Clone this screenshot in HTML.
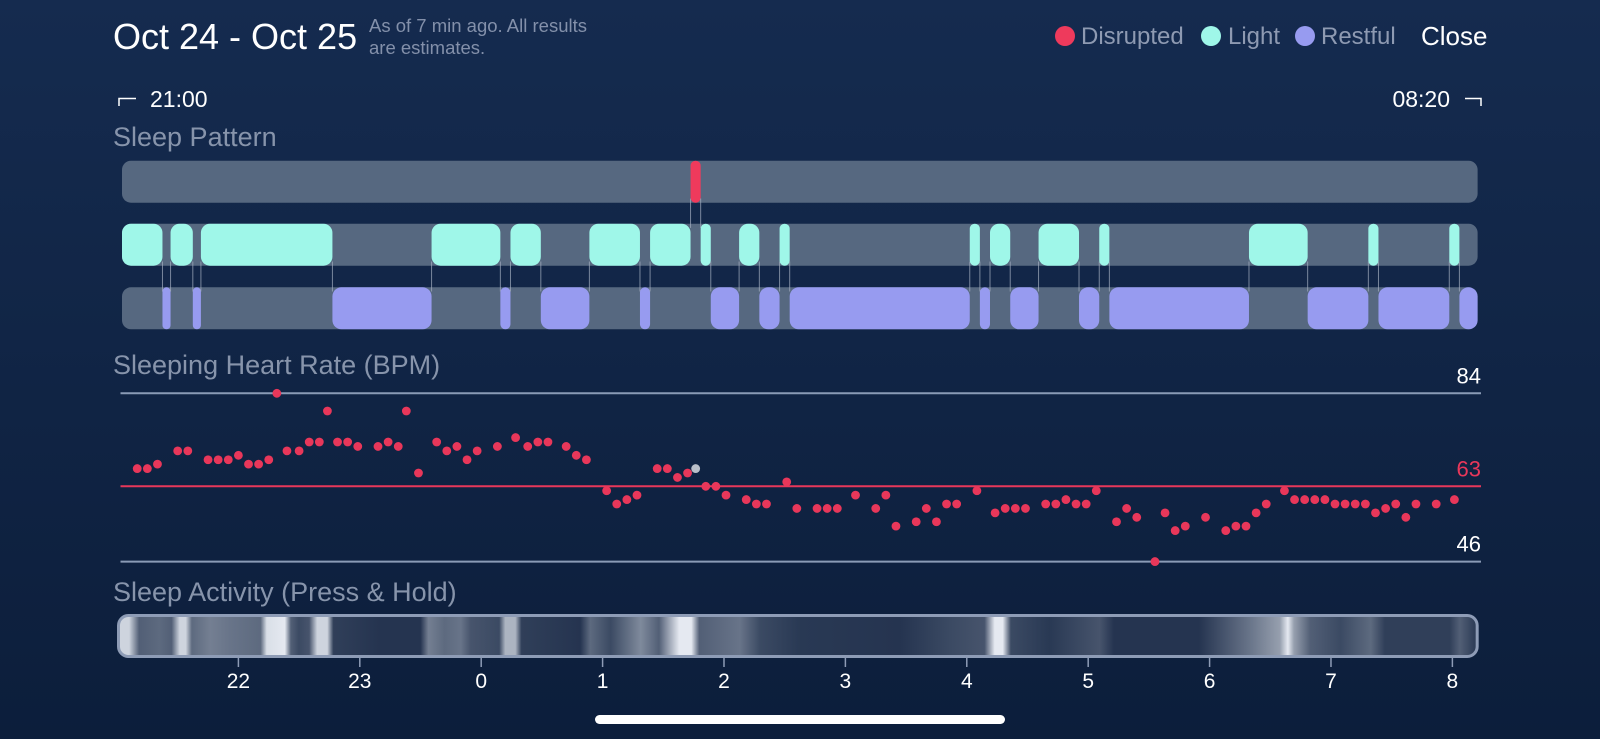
<!DOCTYPE html>
<html><head><meta charset="utf-8">
<style>
html,body{margin:0;padding:0;width:1600px;height:739px;overflow:hidden;background:#112447;}
svg{display:block;font-family:"Liberation Sans",sans-serif;}
</style></head>
<body>
<svg id="chart" width="1600" height="739" viewBox="0 0 1600 739">
<defs>
<linearGradient id="bg" x1="0" y1="0" x2="0" y2="1">
<stop offset="0" stop-color="#152b4f"/><stop offset="1" stop-color="#0c1e3b"/>
</linearGradient>
<linearGradient id="actGrad" x1="117" y1="0" x2="1478" y2="0" gradientUnits="userSpaceOnUse"></linearGradient>
</defs>
<rect x="0" y="0" width="1600" height="739" fill="url(#bg)"/>
<text x="113" y="49" font-size="36" fill="#ffffff">Oct 24 - Oct 25</text>
<text x="369" y="32" font-size="18.5" fill="#8390aa">As of 7 min ago. All results</text>
<text x="369" y="54" font-size="18.5" fill="#8390aa">are estimates.</text>
<g>
<circle cx="1065" cy="36" r="10" fill="#ee3a5c"/>
<text x="1081" y="44" font-size="24" fill="#8e9ab2">Disrupted</text>
<circle cx="1211" cy="36" r="10" fill="#9ff7e9"/>
<text x="1228" y="44" font-size="24" fill="#8e9ab2">Light</text>
<circle cx="1305" cy="36" r="10" fill="#979bf0"/>
<text x="1321" y="44" font-size="24" fill="#8e9ab2">Restful</text>
</g>
<text x="1421" y="45" font-size="26" fill="#ffffff">Close</text>
<path d="M119 106 V98.5 H136" stroke="#ffffff" stroke-width="1.5" fill="none"/>
<text x="150" y="107" font-size="23" fill="#ffffff">21:00</text>
<path d="M1465 98.5 H1481 V106" stroke="#ffffff" stroke-width="1.5" fill="none"/>
<text x="1450" y="107" font-size="23" fill="#ffffff" text-anchor="end">08:20</text>
<text x="113" y="146" font-size="27" fill="#8794ab">Sleep Pattern</text>
<text x="113" y="374" font-size="27" fill="#8794ab">Sleeping Heart Rate (BPM)</text>
<text x="113" y="601" font-size="27" fill="#8794ab">Sleep Activity (Press &amp; Hold)</text>
<g id="pattern"></g>
<g id="hr"></g>
<g id="act"></g>
<rect x="595" y="715" width="410" height="9" rx="4.5" fill="#ffffff"/>
</svg>
<script>
// ---- data ----
const stageStarts = [0,20,24,35,39,104,153,187,192,207,231,256,261,281,286,291,305,315,325,330,419,424,429,439,453,473,483,488,557,586,616,621,656,661];
const stageTypes  = ['L','R','L','R','L','R','L','R','L','R','L','R','L','D','L','R','L','R','L','R','L','R','L','R','L','R','L','R','L','R','L','R','L','R'];
const stageEnd = 670;
const hrTimes = [10,15,20,30,35,45,50,55,60,65,70,75,79,84,90,95,100,104,109,114,119,129,134,139,143,149,158,163,168,173,178,188,197,203,208,213,222,227,232,242,247,252,257,267,272,277,282,286,291,296,301,311,316,321,331,336,346,351,356,365,375,380,385,395,400,405,410,415,425,434,439,444,449,459,464,469,474,479,484,494,499,504,513,518,523,528,538,548,553,558,563,568,577,582,587,592,597,602,607,612,617,622,627,632,637,642,652,661];
const hrValues = [67,67,68,71,71,69,69,69,70,68,68,69,84,71,71,73,73,80,73,73,72,72,73,72,80,66,73,71,72,69,71,72,74,72,73,73,72,70,69,62,59,60,61,67,67,65,66,67,63,63,61,60,59,59,64,58,58,58,58,61,58,61,54,55,58,55,59,59,62,57,58,58,58,59,59,60,59,59,62,55,58,56,46,57,53,54,56,53,54,54,57,59,62,60,60,60,60,59,59,59,59,57,58,59,56,59,59,60];
const hrHighlight = 286;
const hrTickValues = [84,63,46];
const hourLabels = ['22','23','0','1','2','3','4','5','6','7','8'];
const hourMinutes = [60,120,180,240,300,360,420,480,540,600,660];
const actMinutes = [0,6,11,21,27,31,34,37,46,56,71,74,83,86,90,95,99,104,107,130,150,154,162,170,175,189,192,197,200,229,234,244,259,268,278,284,288,308,318,338,387,412,429,434,438,442,461,486,493,535,560,575,579,582,590,605,620,627,659,664,671,673];
const actLevels  = [0.85,0.85,0.3,0.35,0.3,0.85,0.85,0.35,0.45,0.4,0.35,0.9,0.95,0.3,0.2,0.25,0.85,0.85,0.15,0.1,0.1,0.45,0.35,0.4,0.25,0.2,0.7,0.7,0.15,0.1,0.35,0.2,0.5,0.3,0.95,0.95,0.3,0.4,0.2,0.12,0.1,0.2,0.25,0.95,0.95,0.2,0.12,0.25,0.1,0.1,0.4,0.6,0.95,0.6,0.3,0.2,0.35,0.15,0.15,0.3,0.15,0.15];

// ---- scales ----
const NS = 'http://www.w3.org/2000/svg';
const X0 = 117, PXM = 2.0233, PX0 = 122;
function xOf(m){ return X0 + m*PXM; }
function xPat(m){ return PX0 + m*PXM; }
const Y84 = 393.3, PXB = 4.4286;
function yOf(b){ return Y84 + (84-b)*PXB; }
function mk(tag, attrs, parent){
  const e = document.createElementNS(NS, tag);
  for (const k in attrs) e.setAttribute(k, attrs[k]);
  parent.appendChild(e); return e;
}

// ---- sleep pattern ----
const pat = document.getElementById('pattern');
const rowY = {D:160.7, L:223.7, R:287.3};
const rowH = 42;
const colors = {D:'#ef3a5c', L:'#9ff7e9', R:'#979bf0'};
const rowNames = {D:'disrupted-track', L:'light-track', R:'restful-track'};
for (const k of ['D','L','R']) {
  const t = mk('rect', {x:PX0, y:rowY[k], width:xPat(stageEnd)-PX0, height:rowH, rx:9, fill:'#566880'}, pat);
  
  
}
for (let i=0;i<stageStarts.length;i++){
  const s = stageStarts[i], e = (i+1<stageStarts.length)? stageStarts[i+1] : stageEnd;
  const k = stageTypes[i];
  const x1 = xPat(s), x2 = xPat(e), w = x2-x1;
  const r = Math.min(9, w/2);
  const seg = mk('rect', {x:x1, y:rowY[k], width:w, height:rowH, rx:r, fill:colors[k]}, pat);
  
  
  if (i+1<stageStarts.length){
    const k2 = stageTypes[i+1];
    const top = Math.min(rowY[k],rowY[k2]) + rowH, bot = Math.max(rowY[k],rowY[k2]);
    const ln = mk('line', {x1:x2, x2:x2, y1:top-rowH*0.1, y2:bot+rowH*0.1, stroke:'#a6b0c2', 'stroke-width':1, opacity:0.7}, pat);
    
    
  }
}

// ---- heart rate ----
const hr = document.getElementById('hr');
const lineX1 = 120.5, lineX2 = 1481;
const tickColors = ['#8a9bb6','#e8375a','#8a9bb6'];
const tickTextColors = ['#ffffff','#e8375a','#ffffff'];
hrTickValues.forEach((v,i)=>{
  const y = yOf(v);
  const l = mk('line', {x1:lineX1, x2:lineX2, y1:y, y2:y, stroke:tickColors[i], 'stroke-width':2}, hr);
  
  
  const t = mk('text', {x:1481, y:y-10, 'font-size':22, fill:tickTextColors[i], 'text-anchor':'end'}, hr);
  t.textContent = String(v);
  
  
});
hrTimes.forEach((m,i)=>{
  const c = mk('circle', {cx:xOf(m), cy:yOf(hrValues[i]), r:4.4, fill:(m===hrHighlight?'#b9bfc9':'#e8375a')}, hr);
  
  
});

// ---- activity ----
const grad = document.getElementById('actGrad');
function mixColor(v){
  const a=[14,31,61], b=[240,244,250];
  const c = a.map((x,j)=>Math.round(x+(b[j]-x)*v));
  return 'rgb('+c.join(',')+')';
}
actMinutes.forEach((m,i)=>{
  mk('stop', {offset:(m/673).toFixed(4), 'stop-color':mixColor(actLevels[i])}, grad);
});
const act = document.getElementById('act');
const ab = mk('rect', {x:X0+1.5, y:615.5, width:xOf(673)-X0-3, height:41, rx:10, fill:'url(#actGrad)', stroke:'#8e9cb6', 'stroke-width':3}, act);


hourMinutes.forEach((m,i)=>{
  const x = xOf(m);
  const tk = mk('line', {x1:x, x2:x, y1:658, y2:667, stroke:'#8e9cb6', 'stroke-width':1.5}, act);
  
  
  const t = mk('text', {x:x, y:688, 'font-size':21, fill:'#ffffff', 'text-anchor':'middle'}, act);
  t.textContent = hourLabels[i];
  
  
});
</script>
</body></html>
